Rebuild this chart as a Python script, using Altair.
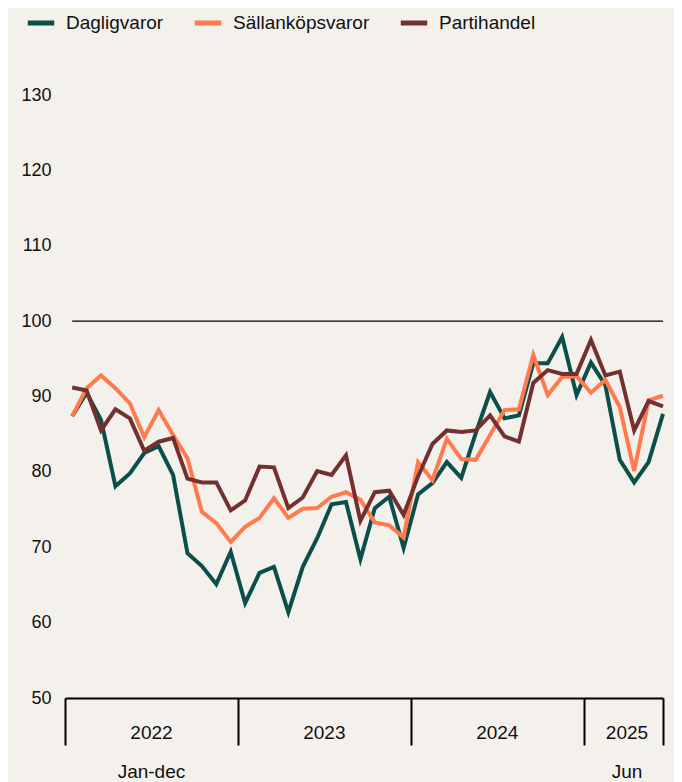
import altair as alt
import pandas as pd

series_names = ["Dagligvaror", "Sällanköpsvaror", "Partihandel"]
series_colors = ["#0b4f4a", "#ff7a4d", "#74302f"]

dagligvaror = [87.4, 90.5, 86.9, 78.1, 79.8, 82.5, 83.4, 79.6, 69.2, 67.5, 65.1, 69.4,
               62.6, 66.6, 67.4, 61.4, 67.4, 71.2, 75.7, 76.0, 68.4, 75.2, 76.7, 69.9,
               77.0, 78.5, 81.3, 79.2, 85.1, 90.6, 87.1, 87.5, 94.4, 94.4, 97.9, 90.2,
               94.5, 91.5, 81.6, 78.6, 81.3, 87.7]
sallankopsvaror = [87.4, 91.1, 92.8, 91.1, 89.1, 84.6, 88.2, 84.9, 81.8, 74.7, 73.2, 70.7,
                   72.7, 73.9, 76.5, 73.9, 75.1, 75.2, 76.7, 77.3, 76.3, 73.3, 72.9, 71.3,
                   81.3, 78.9, 84.4, 81.7, 81.6, 84.9, 88.2, 88.3, 95.5, 90.2, 92.6, 92.7,
                   90.5, 92.2, 88.6, 80.1, 89.5, 90.1]
partihandel = [91.2, 90.8, 85.5, 88.3, 87.1, 82.8, 84.0, 84.5, 79.1, 78.6, 78.6, 74.9,
               76.2, 80.7, 80.6, 75.2, 76.6, 80.1, 79.6, 82.2, 73.5, 77.3, 77.5, 74.3,
               79.4, 83.7, 85.5, 85.3, 85.5, 87.5, 84.7, 84.0, 91.8, 93.5, 93.0, 93.0,
               97.5, 92.8, 93.3, 85.5, 89.4, 88.7]

years = ["2022", "2023", "2024", "2025"]
months_per_year = [12, 12, 12, 6]
sub_labels = ["Jan-dec", "", "", "Jun"]
y_ticks = [50, 60, 70, 80, 90, 100, 110, 120, 130]
reference_level = 100

n = len(dagligvaror)
rows = []
for name, vals in zip(series_names, [dagligvaror, sallankopsvaror, partihandel]):
    for i, v in enumerate(vals):
        rows.append({"serie": name, "idx": i, "value": v})
df = pd.DataFrame(rows)

starts = [sum(months_per_year[:k]) for k in range(len(years))]
year_df = pd.DataFrame({
    "year": years,
    "mid": [s + (m - 1) / 2 for s, m in zip(starts, months_per_year)],
    "sub": sub_labels,
})
boundaries = [s - 0.5 for s in starts] + [n - 1]

xscale = alt.Scale(domain=[-0.5, n - 1], nice=False, zero=False)
yscale = alt.Scale(domain=[50, 130], nice=False, zero=False)

lines = alt.Chart(df).mark_line(strokeWidth=4).encode(
    x=alt.X("idx:Q", scale=xscale,
            axis=alt.Axis(values=boundaries, labels=False, title=None, grid=False,
                          ticks=True, tickSize=47, tickWidth=2, tickColor="black",
                          domainColor="black", domainWidth=2)),
    y=alt.Y("value:Q", scale=yscale,
            axis=alt.Axis(values=y_ticks, title=None, grid=False, domain=False,
                          ticks=False, labelPadding=14, labelFontSize=18,
                          labelColor="#111111", labelFlush=False)),
    color=alt.Color("serie:N", scale=alt.Scale(domain=series_names, range=series_colors),
                    legend=alt.Legend(title=None, orient="none", legendX=-40, legendY=-88,
                                      direction="horizontal", symbolType="stroke",
                                      symbolStrokeWidth=5, symbolSize=700,
                                      labelFontSize=19, labelOffset=9, columnPadding=20,
                                      labelColor="#111111")),
    order="idx:Q",
)

rule = alt.Chart(pd.DataFrame({"x": [0], "x2": [n - 1], "y": [reference_level]})).mark_rule(
    color="black", strokeWidth=1.2
).encode(x=alt.X("x:Q", scale=xscale), x2="x2:Q", y=alt.Y("y:Q", scale=yscale))

year_text = alt.Chart(year_df).mark_text(fontSize=19, color="#111111", baseline="middle").encode(
    x=alt.X("mid:Q", scale=xscale), y=alt.value(638), text="year:N"
)
sub_text = alt.Chart(year_df).mark_text(fontSize=19, color="#111111", baseline="middle").encode(
    x=alt.X("mid:Q", scale=xscale), y=alt.value(677), text="sub:N"
)

chart = alt.layer(rule, lines, year_text, sub_text).properties(
    width=598, height=603,
    autosize=alt.AutoSizeParams(type="none"),
    padding={"left": 57, "top": 87, "right": 11, "bottom": 88},
    background="#f4f0ec",
).configure(font="Liberation Sans", view=alt.ViewConfig(stroke=None))

chart.save("out.html", embed_options={"renderer": "svg", "actions": False})
